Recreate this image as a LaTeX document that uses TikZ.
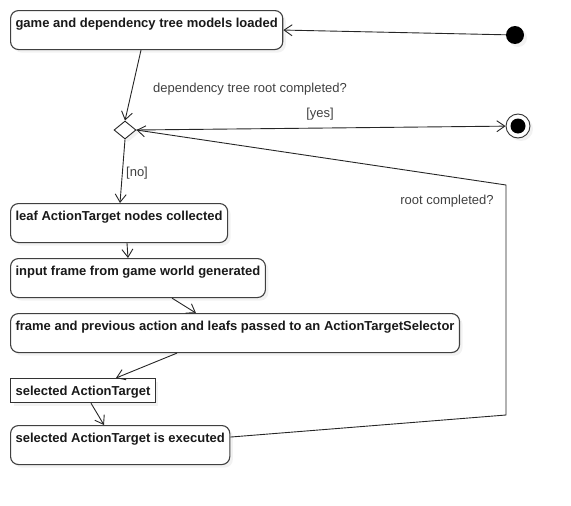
\documentclass[tikz,border=0pt]{standalone}
\usepackage{fontspec}
\setmainfont{Liberation Sans}
\usetikzlibrary{shapes.geometric,arrows.meta,shadows,calc}

\tikzset{
  action/.style={draw=black!75, line width=1.1pt, rounded corners=8pt, fill=white, anchor=north west,
    font=\bfseries\fontsize{13}{15}\selectfont, text=black!90, inner xsep=5pt, inner ysep=4pt,
    text height=12.7pt, text depth=18.3pt,
    drop shadow={shadow xshift=3pt, shadow yshift=-3pt, fill=black!10}},
  object/.style={draw=black!80, line width=1.2pt, fill=white, anchor=north west,
    font=\bfseries\fontsize{13}{15}\selectfont, text=black!90, inner xsep=5pt, inner ysep=3pt,
    text height=14pt, text depth=4pt,
    drop shadow={shadow xshift=3pt, shadow yshift=-3pt, fill=black!10}},
  flow/.style={draw=black!85, line width=0.9pt, -{Straight Barb[length=8pt,width=11pt]}},
  guard/.style={text=black!75, font=\fontsize{13}{15}\selectfont}
}

\begin{document}
\begin{tikzpicture}[x=1pt, y=-1pt]
  \useasboundingbox (0,0) rectangle (571,506);
  % states
  \node[circle, fill=black, inner sep=0pt, minimum size=18pt,
    drop shadow={shadow xshift=3pt, shadow yshift=-3pt, fill=black!10}] at (515,35) (init) {};
  \node[circle, draw=black!80, line width=0.9pt, fill=white, inner sep=0pt, minimum size=24pt,
    drop shadow={shadow xshift=3pt, shadow yshift=-3pt, fill=black!10}] at (518,126) (final) {};
  \node[circle, fill=black, inner sep=0pt, minimum size=15pt] at (518,126) (finaldot) {};
  \node[diamond, draw=black!85, line width=0.9pt, fill=white, inner sep=0pt, minimum width=22pt, minimum height=18pt,
    drop shadow={shadow xshift=3pt, shadow yshift=-3pt, fill=black!10}] at (125,130) (dec) {};
  % actions
  \node[action] at (10,10) (load) {game and dependency tree models loaded};
  \node[action] at (10,203) (collect) {leaf ActionTarget nodes collected};
  \node[action] at (10,258) (frame) {input frame from game world generated};
  \node[action] at (10,313) (pass) {frame and previous action and leafs passed to an ActionTargetSelector};
  \node[object] at (10,378) (sel) {selected ActionTarget};
  \node[action] at (10,425) (exec) {selected ActionTarget is executed};
  % guards
  \node[guard] at (250,89) (qroot) {dependency tree root completed?};
  \node[guard] at (320,114) (yes) {[yes]};
  \node[guard] at (137,173) (no) {[no]};
  \node[guard] at (447,201) (qagain) {root completed?};
  % loop corners
  \coordinate (r1) at (506,415);
  \coordinate (r2) at (506,185);
  % flows
  \draw[flow] (init) -- (load.east);
  \draw[flow] ($(load.south west)+(131,0)$) -- (dec.north);
  \draw[flow] (dec.east) -- (final);
  \draw[flow] (dec.south) -- ($(collect.north west)+(110,0)$);
  \draw[flow] ($(collect.south west)+(117,0)$) -- ($(frame.north west)+(118,0)$);
  \draw[flow] ($(frame.south west)+(162,0)$) -- ($(frame.south west)+(186,15)$);
  \draw[flow] ($(pass.south west)+(167,0)$) -- ($(sel.north west)+(106,0)$);
  \draw[flow] ($(sel.south west)+(81,0)$) -- ($(exec.north west)+(94,0)$);
  \draw[flow] ($(exec.east)+(0,-8)$) -- (r1) -- (r2) -- (dec.east);
\end{tikzpicture}
\end{document}
